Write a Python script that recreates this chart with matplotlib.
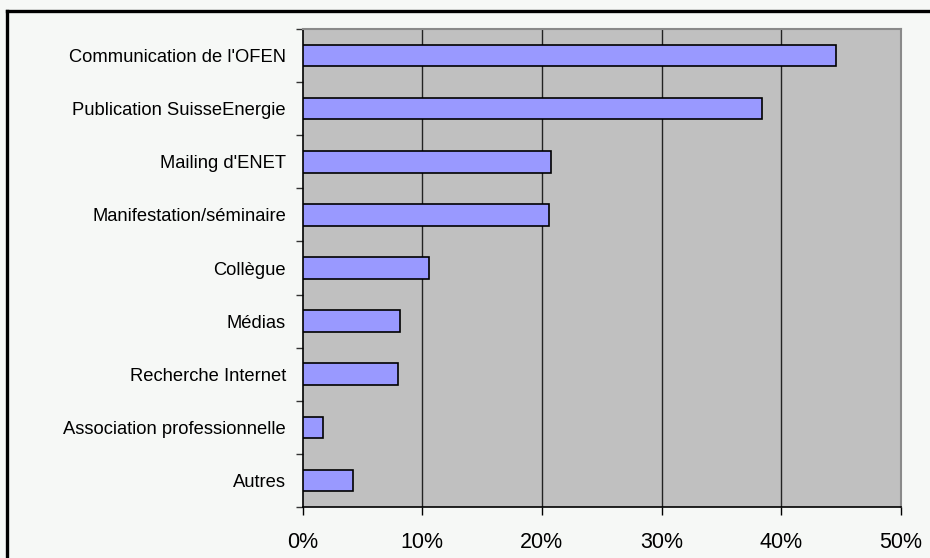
import matplotlib
matplotlib.use("Agg")
import matplotlib.pyplot as plt
from matplotlib.lines import Line2D
from matplotlib.ticker import FixedLocator, NullFormatter

categories = ["Communication de l'OFEN", "Publication SuisseEnergie", "Mailing d'ENET",
              "Manifestation/séminaire", "Collègue", "Médias", "Recherche Internet",
              "Association professionnelle", "Autres"]
values = [44.6, 38.4, 20.8, 20.6, 10.6, 8.1, 8.0, 1.7, 4.2]
xticks = [0, 10, 20, 30, 40, 50]
xtick_labels = ["0%", "10%", "20%", "30%", "40%", "50%"]

plt.rcParams['font.family'] = ['Liberation Sans', 'DejaVu Sans']

fig = plt.figure(figsize=(9.3, 5.58), dpi=100)
fig.patch.set_facecolor('#F6F8F6')
ax = fig.add_axes([302.7/930, 1-506.7/558, (900.7-302.7)/930, (506.7-29.3)/558])
ax.set_facecolor('#C0C0C0')

n = len(categories)
ypos = list(range(n))[::-1]
ax.barh(ypos, values, height=0.4, color='#9999FF', edgecolor='black', linewidth=1.2, zorder=3)

ax.set_xlim(0, 50)
ax.set_ylim(-0.5, n-0.5)
ax.set_xticks(xticks)
ax.set_xticklabels(xtick_labels, fontsize=15.5)
ax.set_yticks(ypos)
ax.set_yticklabels(categories, fontsize=13.2)
ax.tick_params(axis='y', which='major', length=0, pad=12)
ax.yaxis.set_minor_locator(FixedLocator([i - 0.5 for i in range(n+1)]))
ax.yaxis.set_minor_formatter(NullFormatter())
ax.tick_params(axis='y', which='minor', length=5, width=1, color='#333333')
ax.tick_params(axis='x', length=6, width=1, pad=12, color='black')

for g in xticks[1:-1]:
    ax.axvline(g, color='#222222', linewidth=1, zorder=1)

ax.spines['left'].set_color('black')
ax.spines['bottom'].set_color('black')
ax.spines['left'].set_linewidth(1.2)
ax.spines['bottom'].set_linewidth(1.2)
ax.spines['right'].set_color('#8A8A8A')
ax.spines['top'].set_color('#8A8A8A')
ax.spines['right'].set_linewidth(1.5)
ax.spines['top'].set_linewidth(1.5)

# outer frame (top and left visible)
fig.add_artist(Line2D([7/930, 1.0], [1-11/558, 1-11/558], color='black', linewidth=2.4, transform=fig.transFigure))
fig.add_artist(Line2D([7/930, 7/930], [0, 1-11/558], color='black', linewidth=2.4, transform=fig.transFigure))

fig.savefig('out.png', dpi=100, facecolor=fig.get_facecolor())
